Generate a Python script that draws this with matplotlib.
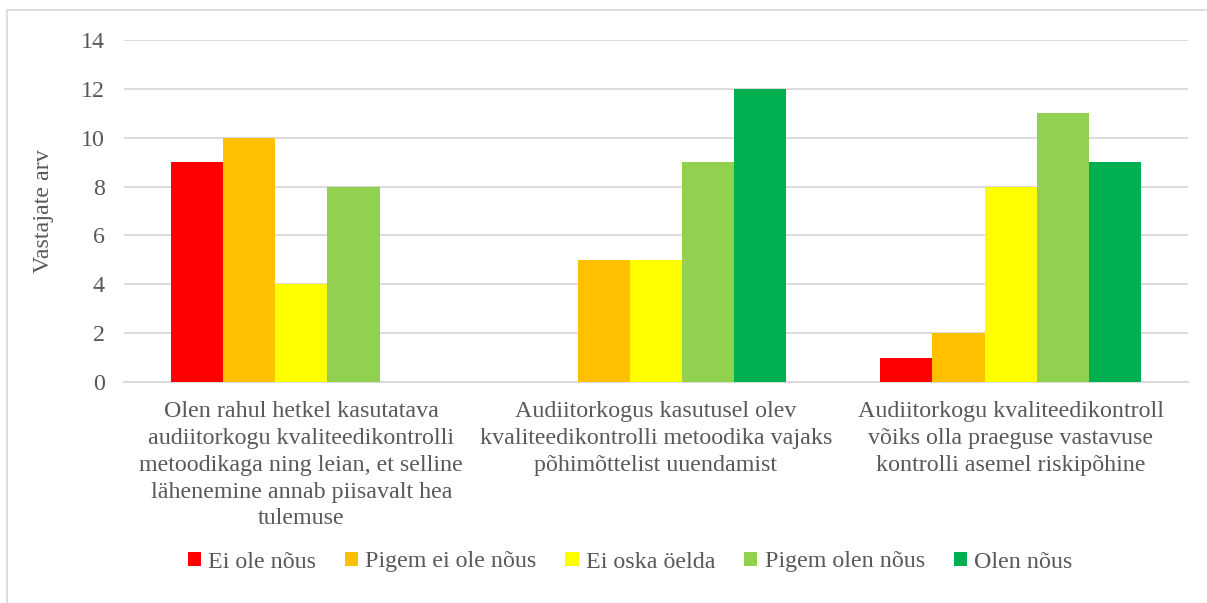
import matplotlib.pyplot as plt
import numpy as np
from matplotlib.lines import Line2D

plt.rcParams['font.family'] = ['Liberation Serif', 'DejaVu Serif']

categories = [
    "Olen rahul hetkel kasutatava\naudiitorkogu kvaliteedikontrolli\nmetoodikaga ning leian, et selline\nlähenemine annab piisavalt hea\ntulemuse",
    "Audiitorkogus kasutusel olev\nkvaliteedikontrolli metoodika vajaks\npõhimõttelist uuendamist",
    "Audiitorkogu kvaliteedikontroll\nvõiks olla praeguse vastavuse\nkontrolli asemel riskipõhine",
]
series = ["Ei ole nõus", "Pigem ei ole nõus", "Ei oska öelda", "Pigem olen nõus", "Olen nõus"]
values = [
    [9, 0, 1],
    [10, 5, 2],
    [4, 5, 8],
    [8, 9, 11],
    [0, 12, 9],
]
colors = ["#FF0000", "#FFC000", "#FFFF00", "#92D050", "#00B050"]

W, H = 1207, 603
fig = plt.figure(figsize=(W / 100, H / 100), dpi=100)
ax = fig.add_axes([124 / W, (H - 382) / H, 1064 / W, 342 / H])

text_col = "#595959"
grid_col = "#D9D9D9"
fs = 17.3

x = np.arange(len(categories))
bw = 0.147
for i, (name, vals) in enumerate(zip(series, values)):
    ax.bar(x + (i - 2) * bw, vals, width=bw, color=colors[i], label=name, zorder=3)

ax.set_xlim(-0.5, 2.5)
ax.set_ylim(0, 14)
ax.set_yticks(range(0, 15, 2))
ax.yaxis.grid(True, color=grid_col, linewidth=1.3, zorder=0)
ax.set_axisbelow(True)
for s in ["top", "right", "left"]:
    ax.spines[s].set_visible(False)
ax.spines["bottom"].set_color(grid_col)
ax.spines["bottom"].set_linewidth(1.3)
ax.tick_params(axis="both", length=0, labelsize=fs, colors=text_col)
ax.tick_params(axis="y", pad=14)
ax.tick_params(axis="x", pad=14)
ax.set_xticks(x)
ax.set_xticklabels(categories, linespacing=1.36)
ax.set_ylabel("Vastajate arv", fontsize=fs, color=text_col, labelpad=19)

leg = fig.legend(loc="center", bbox_to_anchor=(630 / W, 1 - 562 / H), ncol=5,
                 frameon=False, fontsize=fs, handlelength=0.55, handleheight=0.55,
                 handletextpad=0.3, columnspacing=1.2)
for t in leg.get_texts():
    t.set_color(text_col)

# outer chart border (top and left visible)
fig.add_artist(Line2D([7 / W, 1], [1 - 10 / H, 1 - 10 / H], color=grid_col, linewidth=1.2))
fig.add_artist(Line2D([7 / W, 7 / W], [0, 1 - 10 / H], color=grid_col, linewidth=1.2))

fig.savefig("out.png", dpi=100)
